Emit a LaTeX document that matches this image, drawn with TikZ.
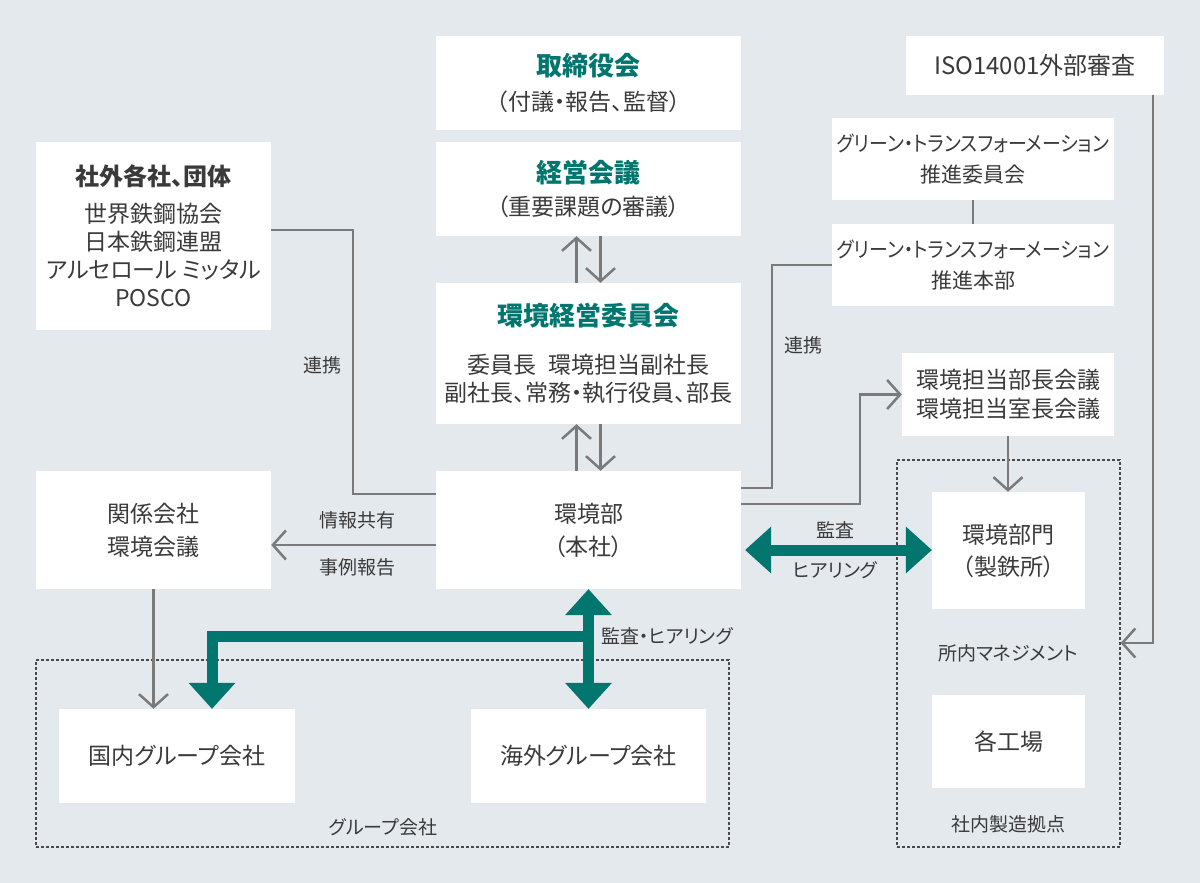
\documentclass[tikz,border=0pt]{standalone}
\usepackage{fontspec}
\setmainfont{Noto Sans CJK JP}[RawFeature=+palt]
\usetikzlibrary{arrows.meta,calc}
\definecolor{bgc}{HTML}{E4E9ED}
\definecolor{tealc}{HTML}{00766F}
\definecolor{txt}{HTML}{3A3A3A}
\definecolor{linec}{HTML}{7A7A7A}
\definecolor{dotc}{HTML}{4A4A4A}
\newcommand\fsbody{\fontsize{23}{30}\selectfont}
\newcommand\fslab{\fontsize{19}{24}\selectfont}
\newcommand\ttlteal[1]{{\fontsize{26}{30}\selectfont\bfseries\color{tealc}#1}}
\newcommand\ttlgray[1]{{\fontsize{24}{28}\selectfont\bfseries #1}}
\newcommand\gxline{\resizebox{272pt}{\height}{グリーン・トランスフォーメーション}}
\begin{document}
\begin{tikzpicture}[x=1pt,y=-1pt,
  box/.style={fill=white, draw=none, align=center, text=txt, inner sep=0pt, font=\fsbody},
  dbox/.style={draw=dotc, line width=1.2pt, dash pattern=on 3pt off 2pt, fill=none, inner sep=0pt},
  lab/.style={text=txt, font=\fslab, inner sep=0pt},
  gl/.style={draw=linec, line width=2.5pt},
  ga/.style={gl, -{Straight Barb[length=13pt,width=29pt]}},
  ta/.style={draw=tealc, line width=11pt},
  tb/.style={ta, arrows={Triangle[length=26pt,width=47pt,line width=0pt]-Triangle[length=26pt,width=47pt,line width=0pt]}},
  te/.style={ta, arrows={-Triangle[length=26pt,width=47pt,line width=0pt]}}]
\fill[bgc] (0,0) rectangle (1200,883);
\useasboundingbox (0,0) rectangle (1200,883);

% dotted groups
\node[dbox, minimum width=693pt, minimum height=187pt] (grp) at (382.5,753.5) {};
\node[dbox, minimum width=223pt, minimum height=387pt] (site) at (1008.5,653.5) {};

% boxes
\node[box, minimum width=235pt, minimum height=188pt, font=\fontsize{23}{28}\selectfont] (ext) at (153.5,236)
  {\ttlgray{社外各社、団体}\\[9pt]世界鉄鋼協会\\日本鉄鋼連盟\\アルセロール ミッタル\\POSCO};
\node[box, minimum width=305pt, minimum height=94pt] (board) at (588.5,83)
  {\ttlteal{取締役会}\\[5pt]（付議・報告、監督）};
\node[box, minimum width=305pt, minimum height=94pt] (mgmt) at (588.5,189)
  {\ttlteal{経営会議}\\[3pt]（重要課題の審議）};
\node[box, minimum width=305pt, minimum height=141pt, font=\fontsize{23}{28}\selectfont] (envc) at (588.5,353.5)
  {\ttlteal{環境経営委員会}\\[20pt]委員長\hspace{0.5em}環境担当副社長\\副社長、常務・執行役員、部長};
\node[box, minimum width=305pt, minimum height=118pt, font=\fontsize{23}{33}\selectfont] (envd) at (588.5,530)
  {環境部\\（本社）};
\node[box, minimum width=258pt, minimum height=59pt, font=\fontsize{24}{30}\selectfont] (iso) at (1035,65.5) {ISO14001外部審査};
\node[box, minimum width=282pt, minimum height=82pt, font=\fontsize{21}{31}\selectfont] (gxc) at (973,159)
  {\gxline\\推進委員会};
\node[box, minimum width=282pt, minimum height=82pt, font=\fontsize{21}{31}\selectfont] (gxh) at (973,265)
  {\gxline\\推進本部};
\node[box, minimum width=212pt, minimum height=83pt, font=\fontsize{23}{29}\selectfont] (bucho) at (1008,394.5)
  {環境担当部長会議\\環境担当室長会議};
\node[box, minimum width=153pt, minimum height=117pt, font=\fontsize{23}{32}\selectfont] (bumon) at (1008.5,550.5)
  {環境部門\\（製鉄所）};
\node[box, minimum width=153pt, minimum height=93pt] (kojo) at (1008.5,741.5) {各工場};
\node[box, minimum width=235pt, minimum height=118pt, font=\fontsize{23}{33}\selectfont] (kankei) at (153.5,530)
  {関係会社\\環境会議};
\node[box, minimum width=236pt, minimum height=94pt] (dom) at (177,756) {国内グループ会社};
\node[box, minimum width=235pt, minimum height=94pt] (ovs) at (588.5,756) {海外グループ会社};

% labels
\node[lab] (l1) at (322,365) {連携};
\node[lab] (l2) at (803,345) {連携};
\node[lab] (l3) at (357,520) {情報共有};
\node[lab] (l4) at (357,567) {事例報告};
\node[lab] (l5) at (835,530) {監査};
\node[lab] (l6) at (835,570) {ヒアリング};
\node[lab, anchor=west] (l7) at (601,636) {監査・ヒアリング};
\node[lab] (l8) at (1008,653) {所内マネジメント};
\node[lab] (l9) at (1008,824) {社内製造拠点};
\node[lab] (l10) at (383,827) {グループ会社};

% gray connectors
\draw[gl] ([yshift=6pt]ext.east) -| ([xshift=-83pt,yshift=36pt]envd.west) -- ([yshift=36pt]envd.west);
\draw[ga] ([yshift=-15pt]envd.west) -- ([yshift=-15pt]kankei.east);
\draw[ga] (kankei.south) -- (kankei.south |- dom.north);
\draw[gl] ([yshift=42pt]envd.east) -| ([xshift=-60pt]gxh.west) -- (gxh.west);
\draw[ga] ([yshift=26pt]envd.east) -| ([xshift=-42pt]bucho.west) -- (bucho.west);
\draw[gl] (gxc.south) -- (gxh.north);
\draw[ga] ([xshift=118pt]iso.south) |- ([yshift=10.5pt]site.east);
\draw[ga] (bucho.south) -- (bucho.south |- bumon.north);
\draw[ga] ([xshift=-12pt]envc.north) -- ([xshift=-12pt]mgmt.south);
\draw[ga] ([xshift=12pt]mgmt.south) -- ([xshift=12pt]envc.north);
\draw[ga] ([xshift=-12pt]envd.north) -- ([xshift=-12pt]envc.south);
\draw[ga] ([xshift=12pt]envc.south) -- ([xshift=12pt]envd.north);

% teal connectors
\draw[tb, shorten <=4pt] ([yshift=-20pt]envd.east) -- ([yshift=-20pt]envd.east -| bumon.west);
\draw[tb] (envd.south) -- (ovs.north);
\coordinate (tj) at ([yshift=-47pt]envd.south);
\draw[te, line join=miter] (tj) -| ([xshift=35pt]dom.north);
\end{tikzpicture}
\end{document}
